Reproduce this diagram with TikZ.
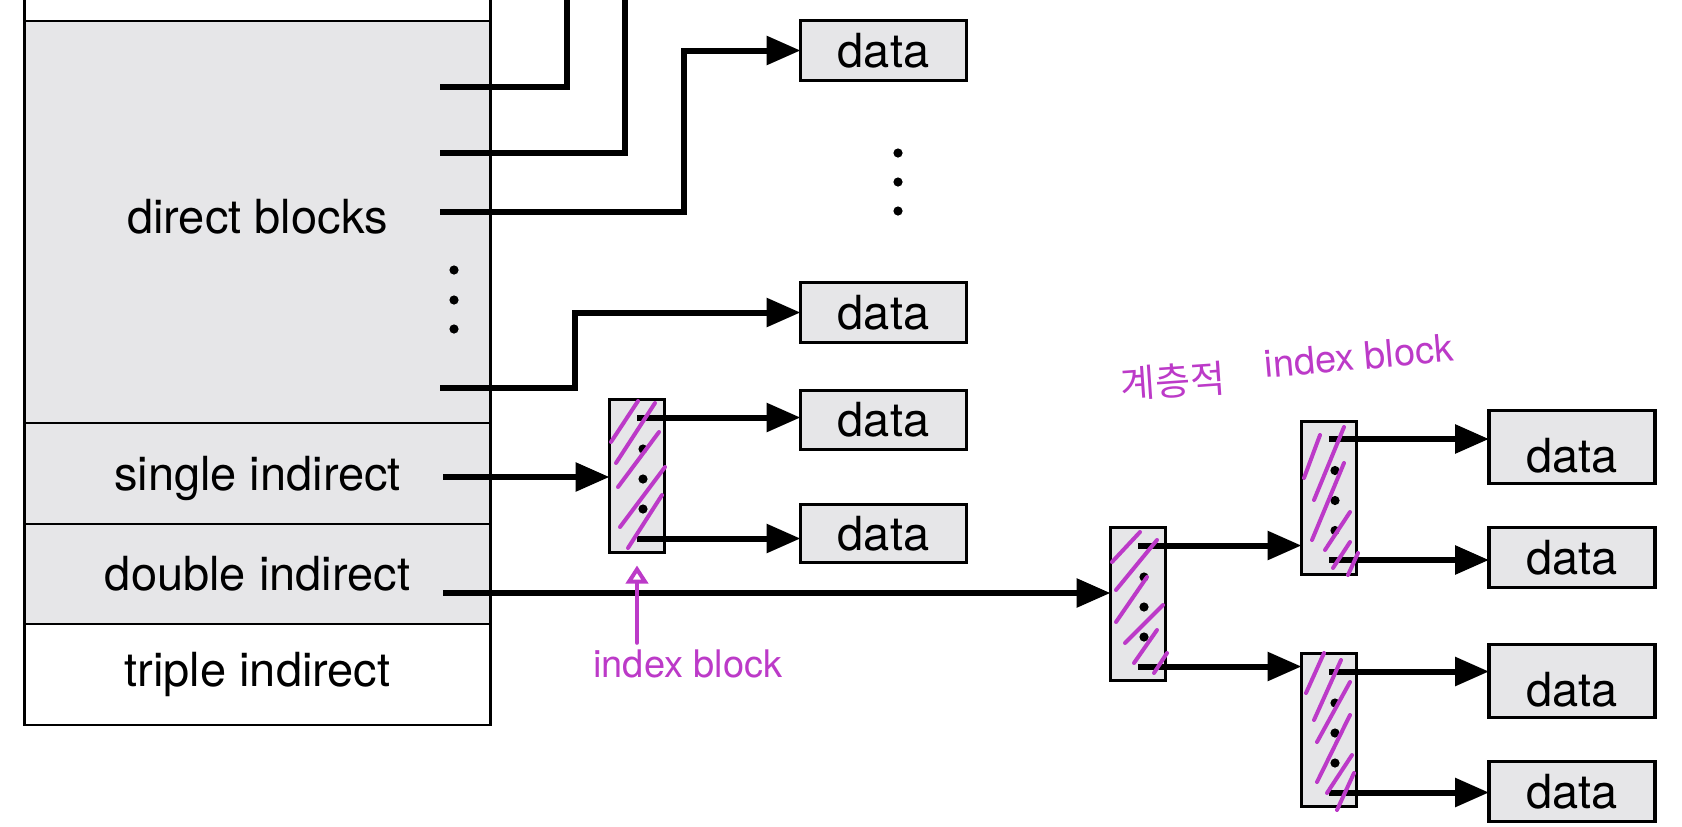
\documentclass[tikz,border=0pt]{standalone}
\usepackage{fontspec}
\setmainfont{TeX Gyre Heros}
\newfontfamily\krfont{Noto Sans CJK KR}
\usepackage{xcolor}
\definecolor{blockgray}{RGB}{230,230,232}
\definecolor{handpen}{RGB}{188,58,200}
\usetikzlibrary{positioning, calc, arrows.meta}
\newcommand{\lblfont}{\fontsize{23.5}{28}\selectfont}
\newcommand{\handfont}{\fontsize{19}{22}\selectfont}
\newcommand{\hangulfont}{\fontsize{19}{22}\selectfont\krfont}
\tikzstyle{Cell} = [draw, line width=1.4pt, minimum width=233pt, inner sep=0pt, outer sep=0pt, font=\lblfont]
\tikzstyle{Data} = [draw, line width=1.7pt, fill=blockgray, minimum width=83pt, inner sep=0pt, outer sep=0pt, font=\lblfont]
\tikzstyle{Index} = [draw, line width=1.5pt, fill=blockgray, minimum width=27.5pt, minimum height=76.5pt, inner sep=0pt, outer sep=0pt]
\tikzstyle{Wire} = [line width=3pt]
\tikzstyle{Ptr} = [line width=3pt, -{Triangle[length=17pt,width=14pt]}]
\tikzstyle{Hand} = [draw=handpen, line width=2pt, line cap=round]

\begin{document}
\begin{tikzpicture}[x=0.5pt, y=-0.5pt, node distance=0pt]
    \useasboundingbox (0,0) rectangle (1682,826);

    \node[Cell, fill=blockgray, minimum height=201pt, text depth=5.4pt] (direct) at (257.5,222) {direct blocks};
    \node[Cell, fill=blockgray, minimum height=50.5pt, text depth=0pt, below=of direct] (single) {single indirect};
    \node[Cell, fill=blockgray, minimum height=50pt, below=of single] (double) {double indirect};
    \node[Cell, fill=white, minimum height=50.5pt, below=of double] (triple) {triple indirect};
    \draw[line width=1.4pt] (direct.north west) -- ++(0,-30) (direct.north east) -- ++(0,-30);
    \foreach \y in {270,300,329}
        \fill (454,\y) circle[radius=2.3pt];

    \coordinate (d1) at (440,87);
    \coordinate (d2) at (440,153);
    \coordinate (d3) at (440,212);
    \coordinate (d4) at (440,388);
    \coordinate (s1) at (443,477);
    \coordinate (s2) at (443,593);
    \coordinate (up1) at (567,-10);
    \coordinate (up2) at (625,-10);

    \node[Data, minimum height=30pt] (dat1) at (883.5,50.5) {data};
    \node[Data, minimum height=30pt] (dat2) at (883.5,312.5) {data};
    \node[Data, minimum height=29.5pt] (dat3) at (883.5,420) {data};
    \node[Data, minimum height=29pt] (dat4) at (883.5,533.5) {data};
    \node[Data, minimum height=36.5pt, text depth=0pt, text height=25pt] (dat5) at (1572,447) {data};
    \node[Data, minimum height=30pt] (dat6) at (1572,557.5) {data};
    \node[Data, minimum height=36.5pt, text depth=0pt, text height=25pt] (dat7) at (1572,681) {data};
    \node[Data, minimum height=30pt] (dat8) at (1572,791.5) {data};
    \foreach \y in {153,182,211}
        \fill (898,\y) circle[radius=2.3pt];

    \node[Index] (ib1) at (637,476) {};
    \node[Index] (ib2) at (1138,604) {};
    \node[Index] (ib3) at (1329,497.5) {};
    \node[Index] (ib4) at (1329,730) {};
    \foreach \b in {ib1,ib2,ib3,ib4} {
        \foreach \dy in {-27,3,33}
            \fill ($(\b.center)+(6,\dy)$) circle[radius=2.3pt];
        \coordinate (\b-t) at ($(\b.center)+(0,-58.5)$);
        \coordinate (\b-b) at ($(\b.center)+(0,62.5)$);
    }

    \draw[Wire] (d1) -| (up1);
    \draw[Wire] (d2) -| (up2);
    \draw[Ptr] (d3) -| ([xshift=-58.5pt]dat1.west) -- (dat1.west);
    \draw[Ptr] (d4) -| ([xshift=-113pt]dat2.west) -- (dat2.west);
    \draw[Ptr] (s1) -- (s1 -| ib1.west);
    \draw[Ptr] (s2) -- (s2 -| ib2.west);
    \draw[Ptr] (ib1-t) -- (ib1-t -| dat3.west);
    \draw[Ptr] (ib1-b) -- (ib1-b -| dat4.west);
    \draw[Ptr] (ib2-t) -- (ib2-t -| ib3.west);
    \draw[Ptr] (ib2-b) -- (ib2-b -| ib4.west);
    \draw[Ptr] (ib3-t) -- (ib3-t -| dat5.west);
    \draw[Ptr] (ib3-b) -- (ib3-b -| dat6.west);
    \draw[Ptr] (ib4-t) -- (ib4-t -| dat7.west);
    \draw[Ptr] (ib4-b) -- (ib4-b -| dat8.west);

    % hand notes
    \foreach \xa/\ya/\xb/\yb in {611/442/638/401, 616/463/655/403, 618/487/659/432, 620/527/665/467, 628/548/662/495,
        1112/562/1140/532, 1116/590/1157/540, 1116/622/1147/577, 1125/643/1163/605, 1134/663/1157/630, 1154/673/1167/653,
        1304/478/1320/435, 1314/500/1344/427, 1312/540/1344/463, 1325/550/1350/512, 1333/568/1350/542, 1348/575/1358/553,
        1306/693/1324/653, 1314/720/1341/660, 1317/742/1350/682, 1317/782/1350/715, 1327/793/1352/755, 1337/810/1354/773}
        \draw[Hand] (\xa,\ya) -- (\xb,\yb);

    \node[text=handpen, font=\handfont] (lblA) at (688,664) {index block};
    \draw[Hand, -{Triangle[open, length=9pt, width=11pt]}] (lblA.north -| ib1) -- ([yshift=-6.5pt]ib1.south);
    \node[text=handpen, font=\hangulfont, rotate=4] (lblK) at (1173,381) {계층적};
    \node[text=handpen, font=\handfont, rotate=5] (lblB) at (1359,356) {index block};
\end{tikzpicture}
\end{document}
